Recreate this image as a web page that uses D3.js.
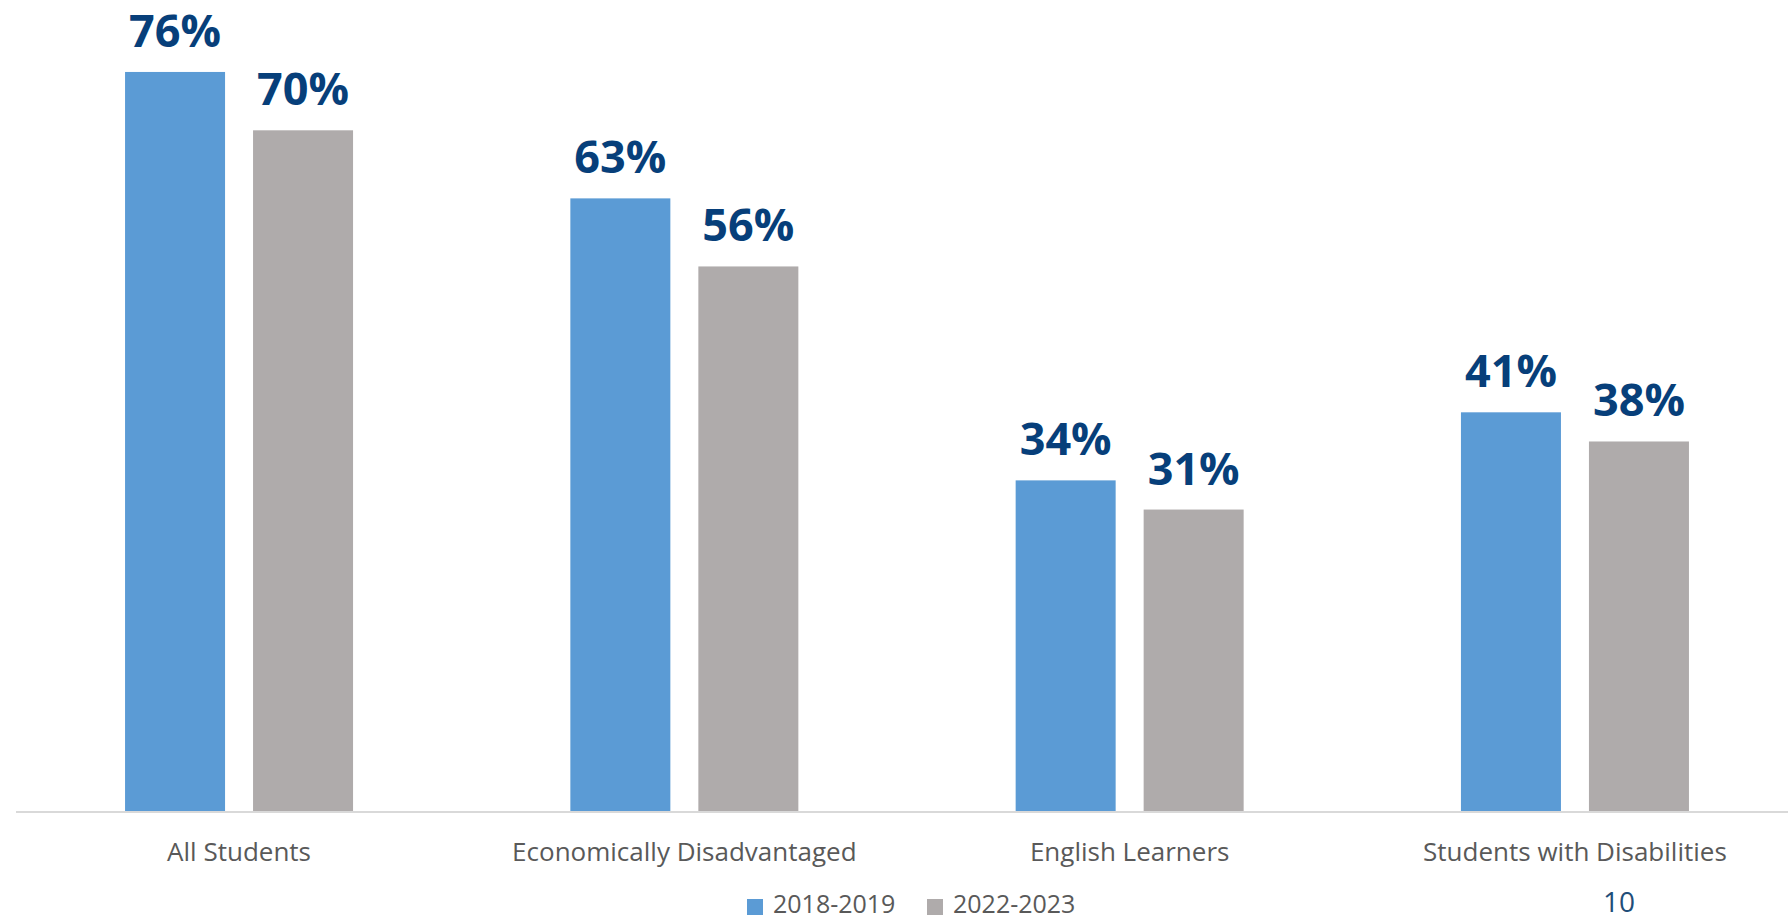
<!DOCTYPE html>
<html>
<head>
<meta charset="utf-8">
<script src="https://cdn.jsdelivr.net/npm/d3@7"></script>
<style>
  body { margin: 0; background: #fff; }
  svg { display: block; font-family: "Open Sans", sans-serif; }
</style>
</head>
<body>
<div id="wrapper"></div>
<script>
const categories = ["All Students", "Economically Disadvantaged", "English Learners", "Students with Disabilities"];
const seriesNames = ["2018-2019", "2022-2023"];
const values2019 = [76, 63, 34, 41];
const values2023 = [70, 56, 31, 38];
const pageNumber = "10";

const colors = ["#5b9bd5", "#afabab"];

function drawChart() {
    let dimensions = {
        width: 1788,
        height: 920,
        baseline: 811,
        plotLeft: 16.4,
        plotRight: 1797.6
    };

    const rows = categories.map((c, i) => ({
        category: c,
        values: [
            { series: seriesNames[0], value: values2019[i] },
            { series: seriesNames[1], value: values2023[i] }
        ]
    }));

    const svg = d3.select("#wrapper")
    .append("svg")
    .attr("width", dimensions.width)
    .attr("height", dimensions.height);

    svg.append("rect")
    .attr("width", dimensions.width)
    .attr("height", dimensions.height)
    .attr("fill", "#fff");

    const xScale = d3.scaleBand()
    .domain(categories)
    .range([dimensions.plotLeft, dimensions.plotRight]);

    // two bars of 100px with a 28px gap, centred in each band
    const groupWidth = 228;
    const xInner = d3.scaleBand()
    .domain(seriesNames)
    .range([0, groupWidth])
    .paddingInner(0.21875);

    const yScale = d3.scaleLinear()
    .domain([0, 83.4])
    .range([dimensions.baseline, 0]);

    const colorScale = d3.scaleOrdinal().domain(seriesNames).range(colors);

    const groups = svg.selectAll(".group")
    .data(rows)
    .join("g")
    .attr("class", "group")
    .attr("transform", d => `translate(${xScale(d.category) + xScale.bandwidth() / 2 - groupWidth / 2},0)`);

    groups.selectAll("rect")
    .data(d => d.values)
    .join("rect")
    .attr("x", d => xInner(d.series))
    .attr("y", d => yScale(d.value))
    .attr("width", xInner.bandwidth())
    .attr("height", d => dimensions.baseline - yScale(d.value))
    .attr("fill", d => colorScale(d.series));

    groups.selectAll(".value-label")
    .data(d => d.values)
    .join("text")
    .attr("class", "value-label")
    .attr("x", d => xInner(d.series) + xInner.bandwidth() / 2)
    .attr("y", d => yScale(d.value) - 25)
    .attr("text-anchor", "middle")
    .attr("font-size", 45)
    .attr("font-weight", 700)
    .attr("fill", "#073f7a")
    .text(d => d.value + "%");

    // category axis (line only, labels below)
    svg.append("line")
    .attr("x1", 16)
    .attr("x2", dimensions.width)
    .attr("y1", dimensions.baseline + 1)
    .attr("y2", dimensions.baseline + 1)
    .attr("stroke", "#d9d9d9")
    .attr("stroke-width", 2);

    svg.selectAll(".cat-label")
    .data(categories)
    .join("text")
    .attr("class", "cat-label")
    .attr("x", d => xScale(d) + xScale.bandwidth() / 2)
    .attr("y", 861)
    .attr("text-anchor", "middle")
    .attr("font-size", 26)
    .attr("fill", "#595959")
    .text(d => d);

    // legend
    const legendX = [747, 927];
    const legend = svg.selectAll(".legend")
    .data(seriesNames)
    .join("g")
    .attr("class", "legend")
    .attr("transform", (d, i) => `translate(${legendX[i]},0)`);

    legend.append("rect")
    .attr("x", 0)
    .attr("y", 899)
    .attr("width", 16)
    .attr("height", 16)
    .attr("fill", d => colorScale(d));

    legend.append("text")
    .attr("x", 26)
    .attr("y", 913)
    .attr("font-size", 25)
    .attr("fill", "#595959")
    .text(d => d);

    svg.append("text")
    .attr("x", 1619)
    .attr("y", 912)
    .attr("text-anchor", "middle")
    .attr("font-size", 28)
    .attr("fill", "#1f4e79")
    .text(pageNumber);
}

drawChart();
</script>
</body>
</html>
